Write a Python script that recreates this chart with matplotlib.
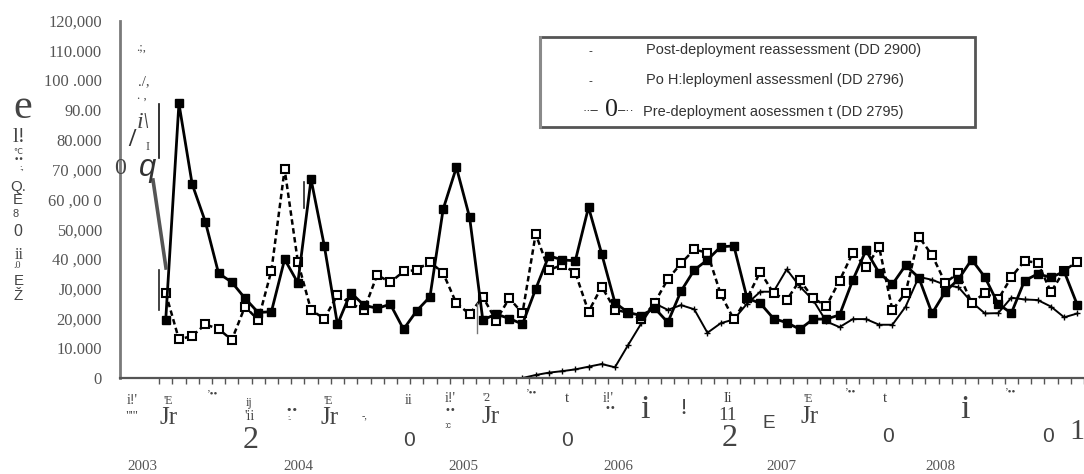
import numpy as np
import matplotlib
matplotlib.use("Agg")
import matplotlib.pyplot as plt
from matplotlib.lines import Line2D
from matplotlib.patches import Rectangle

W, H = 1084, 474
DPI = 100

# ---- data: monthly counts of health assessment forms ----
months = np.arange(70)

pre_deployment = [28500, 13000, 14100, 18000, 16500, 12800, 24000, 19500, 36100, 70200,
                  39100, 22800, 20000, 27900, 25100, 22800, 34600, 32200, 35800, 36300,
                  39100, 35200, 25100, 21500, 27300, 19300, 26800, 21800, 48400, 36300,
                  38000, 35400, 22300, 30700, 23000, 21900, 19700, 25300, 33200, 38500,
                  43200, 42100, 28200, 19700, 26800, 35700, 28500, 26200, 32900, 26800,
                  24200, 32700, 42100, 37400, 43900, 22800, 28700, 47500, 41300, 32000,
                  35300, 25200, 28600, 26400, 33900, 39400, 38700, 28900, 36100, 39100]

post_deployment = [19500, 92300, 65200, 52500, 35200, 32200, 26800, 22000, 22300, 39900,
                   32000, 66800, 44500, 18000, 28700, 24500, 23400, 24800, 16400, 22600,
                   27300, 56800, 70800, 54000, 19500, 21500, 20000, 18100, 29900, 41100,
                   39700, 39400, 57400, 41700, 25300, 22000, 21000, 23500, 18700, 29200,
                   36300, 39700, 44100, 44400, 26800, 25100, 20000, 18600, 16400, 19800,
                   19800, 21200, 32900, 42900, 35300, 31500, 37900, 33700, 21700, 29000,
                   33200, 39800, 33900, 24900, 21800, 32700, 35000, 33800, 35800, 24500]

# reassessment form reporting begins at month 27
reassess_first_month = 27
reassessment = [0, 1000, 1800, 2300, 2900, 3800, 4700, 3600, 11100, 18400,
                25100, 22900, 24500, 23100, 15200, 18400, 19700, 25000, 29000, 29000,
                36500, 30700, 26200, 19000, 17100, 19800, 19800, 17900, 17900, 24000,
                34000, 33000, 31300, 30500, 25500, 21700, 21800, 27000, 26400, 26200,
                24000, 20400, 21700]

y_ticks = [0, 10000, 20000, 30000, 40000, 50000, 60000, 70000, 80000, 90000,
           100000, 110000, 120000]
y_tick_labels = ["0", "10.000", "20,000", "J0,000", "40 ,000", "50,000", "60 ,00 0",
                 "70 ,000", "80.000", "90.00", "100 .000", "110.000", "120,000"]

years = ["2003", "2004", "2005", "2006", "2007", "2008"]

legend_labels = ["Post-deployment reassessment (DD 2900)",
                 "Po H:leploymenl assessmenl (DD 2796)",
                 "Pre-deployment aosessmen t (DD 2795)"]

SERIF = ["Liberation Serif", "DejaVu Serif"]
SANS = ["Liberation Sans", "DejaVu Sans"]


def fx(x):
    return x / W


def fy(y):
    return 1 - y / H


def pt(px):
    return px * 72.0 / DPI


fig = plt.figure(figsize=(W / DPI, H / DPI), dpi=DPI)
fig.patch.set_facecolor("white")


def txt(x, y, s, size, family=SERIF, color="#444444", ha="center", va="center", **kw):
    fig.text(fx(x), fy(y), s, fontsize=pt(size), family=family, color=color,
             ha=ha, va=va, **kw)


ax = fig.add_axes([fx(120), fy(378), fx(1084) - fx(120), fy(21) - fy(378)])
ax.set_xlim(-3.46, 69.07)
ax.set_ylim(0, 120000)

ax.plot(months, pre_deployment, color="black", lw=1.8, ls=(0, (2.2, 1.4)),
        marker="s", ms=5.2, mfc="white", mec="black", mew=1.5, zorder=3)
ax.plot(months, post_deployment, color="black", lw=2.0, ls="-",
        marker="s", ms=5.2, mfc="black", mec="black", zorder=4)
ax.plot(months[reassess_first_month:], reassessment, color="black", lw=1.4,
        marker="+", ms=4.5, mew=1.0, zorder=2)

for side in ("top", "right"):
    ax.spines[side].set_visible(False)
ax.spines["left"].set_color("#7a7a7a")
ax.spines["left"].set_linewidth(2.0)
ax.spines["bottom"].set_color("#555555")
ax.spines["bottom"].set_linewidth(1.6)

ax.set_yticks(y_ticks)
ax.set_yticklabels(y_tick_labels, family=SERIF, fontsize=pt(16.5), color="#555555")
ax.tick_params(axis="y", length=0, pad=pt(18))
ax.set_xticks(np.arange(-0.5, 70, 1.0))
ax.set_xticklabels([])
ax.tick_params(axis="x", length=4, width=1.0, color="#555555", direction="out")
ax.patch.set_alpha(0)

# ---- scanned axis-title glyphs down the left margin ----
txt(23, 108, "e", 42)
txt(19, 137, "l!", 21)
txt(18, 151, "℃", 8, family=["DejaVu Sans"])
txt(19, 160, "••", 9, family=["DejaVu Sans"])
txt(22, 168, ":,", 9)
txt(18, 187, "Q.", 15, family=SANS)
txt(18, 200, "E", 15, family=SANS)
txt(16, 214, "8", 11, family=SANS)
txt(18, 232, "0", 16, family=SANS)
txt(19, 255, "ii", 16)
txt(17, 266, ".0", 10)
txt(19, 281, "E", 15, family=SANS)
txt(18, 296, "Ž", 15, family=SANS)

# ---- scanning debris near the top of the axis ----
txt(141, 48, ".;,", 13)
txt(144, 82, "./,", 15)
txt(142, 96, ". ,", 13)
txt(143, 123, "i\\", 24, style="italic")
txt(132, 140, "/", 26, fontweight="bold", color="#333333")
txt(147, 147, "I", 12)
txt(120, 168, "0", 24)
txt(148, 168, "q", 31, family=SANS, style="italic", color="#333333")

debris = [((159, 104), (159, 158), "#111111", 1.2),
          ((153, 180), (166, 268), "#555555", 2.6),
          ((159, 270), (159, 310), "#222222", 1.2),
          ((304, 182), (304, 208), "#222222", 1.2),
          ((477, 303), (477, 333), "#777777", 1.0)]
for (x0, y0), (x1, y1), c, lw in debris:
    fig.add_artist(Line2D([fx(x0), fx(x1)], [fy(y0), fy(y1)], color=c, lw=lw,
                          transform=fig.transFigure))

# ---- month tick glyphs along the x axis ----
tick_glyphs = [
    (132, 401, "i!'", 14, SERIF), (132, 416, "\"'\"", 13, SERIF),
    (168, 401, "'E", 12, SERIF), (169, 418, "Jr", 25, SERIF),
    (212, 394, "’••", 11, SERIF),
    (249, 403, "ij", 12, SERIF), (250, 417, "'ii", 14, SERIF), (251, 440, "2", 32, SERIF),
    (292, 410, "••", 11, ["DejaVu Sans"]), (289, 418, ":.", 8, SERIF),
    (328, 401, "'E", 12, SERIF), (330, 418, "Jr", 25, SERIF),
    (365, 417, "-,", 10, SERIF),
    (409, 400, "ii", 14, SERIF), (409, 441, "0", 21, SANS),
    (450, 399, "i!'", 14, SERIF), (450, 410, "••", 10, ["DejaVu Sans"]),
    (448, 426, ":c", 9, SANS),
    (487, 398, "'2", 12, SERIF), (491, 417, "Jr", 25, SERIF),
    (531, 393, "’••", 11, SERIF),
    (567, 398, "t", 15, SERIF), (567, 440, "0", 21, SANS),
    (608, 398, "i!'", 14, SERIF), (610, 408, "••", 10, ["DejaVu Sans"]),
    (645, 410, "i", 34, SERIF),
    (683, 408, "!", 24, SERIF),
    (728, 399, "Ii", 14, SERIF), (728, 415, "11", 19, SERIF), (730, 438, "2", 32, SERIF),
    (769, 424, "E", 19, SANS),
    (808, 399, "'E", 12, SERIF), (810, 417, "Jr", 25, SERIF),
    (850, 392, "’••", 11, SERIF),
    (885, 398, "t", 15, SERIF), (888, 437, "0", 21, SANS),
    (965, 410, "i", 34, SERIF),
    (1010, 392, "’••", 11, SERIF),
    (1048, 437, "0", 21, SANS), (1077, 432, "1", 30, SERIF),
]
for x, y, s, size, fam in tick_glyphs:
    txt(x, y, s, size, family=fam)

# ---- year labels ----
for x, s in zip([142, 298, 463, 618, 781, 940], years):
    txt(x, 467, s, 15, color="#555555")

# ---- legend box ----
fig.add_artist(Rectangle((fx(540), fy(127)), fx(975) - fx(540), fy(37) - fy(127),
                         transform=fig.transFigure, fill=False, ec="#555555", lw=2.0))
fig.add_artist(Line2D([fx(540), fx(540)], [fy(37), fy(127)], color="#8a8a8a", lw=2.2,
                      transform=fig.transFigure))
txt(590, 52, "-", 12, family=SANS, color="#333333")
txt(590, 82, "-", 12, family=SANS, color="#333333")
txt(598, 111, "··–", 13, family=SANS, color="#222222", ha="right")
txt(611, 110, "0", 26, family=SERIF, color="#222222")
txt(618, 111, "–··", 13, family=SANS, color="#222222", ha="left")
for y, s in zip([50, 80, 112], legend_labels):
    txt(646 if y < 100 else 643, y, s, 14.5, family=SANS, color="#333333", ha="left")

fig.savefig("out.png", dpi=DPI, facecolor="white")
